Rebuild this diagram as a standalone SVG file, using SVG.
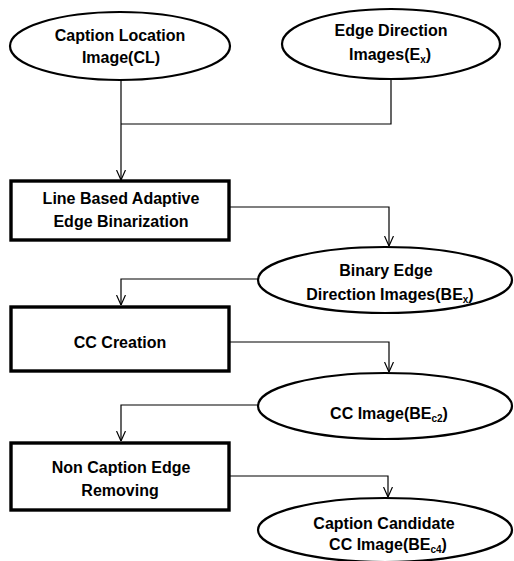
<svg xmlns="http://www.w3.org/2000/svg" width="514" height="561" viewBox="0 0 514 561">
<style>
.ell{fill:#fff;stroke:#000;stroke-width:2.2}
.box{fill:#fff;stroke:#000;stroke-width:3.4}
.t{font-family:"Liberation Sans",Arial,sans-serif;font-weight:bold;font-size:16px;text-anchor:middle;fill:#000}
.s{font-size:10px}
.c{fill:none;stroke:#000;stroke-width:1.2}
</style>
<defs>
<marker id="ah" viewBox="0 0 10 10" refX="10" refY="5" markerWidth="10" markerHeight="10" markerUnits="userSpaceOnUse" orient="auto">
<path d="M0,0.5 L10,5 L0,9.5" fill="none" stroke="#000" stroke-width="1.2"/>
</marker>
</defs>
<rect width="514" height="561" fill="#fff"/>
<g id="connectors">
<path class="c" d="M121,80 V124"/>
<path class="c" d="M391,79 V124 H121"/>
<path class="c" d="M121,124 V180" marker-end="url(#ah)"/>
<path class="c" d="M229,207 H389 V246" marker-end="url(#ah)"/>
<path class="c" d="M258,279 H121 V305" marker-end="url(#ah)"/>
<path class="c" d="M229,342 H389 V372" marker-end="url(#ah)"/>
<path class="c" d="M258,405 H121 V441" marker-end="url(#ah)"/>
<path class="c" d="M229,476 H388 V497" marker-end="url(#ah)"/>
</g>
<g id="n1">
<ellipse class="ell" cx="120" cy="46" rx="110" ry="34"/>
<text class="t" x="120" y="41">Caption Location</text>
<text class="t" x="121" y="63">Image(CL)</text>
</g>
<g id="n2">
<ellipse class="ell" cx="391" cy="44" rx="109" ry="35"/>
<text class="t" x="391" y="36">Edge Direction</text>
<text class="t" x="390" y="60">Images(E<tspan class="s" dy="3">x</tspan><tspan dy="-3">)</tspan></text>
</g>
<g id="n3">
<rect class="box" x="11" y="181" width="218" height="59"/>
<text class="t" x="121" y="204">Line Based Adaptive</text>
<text class="t" x="121" y="227">Edge Binarization</text>
</g>
<g id="n4">
<ellipse class="ell" cx="385" cy="280" rx="127" ry="33"/>
<text class="t" x="386" y="276">Binary Edge</text>
<text class="t" x="390" y="300">Direction Images(BE<tspan class="s" dy="3">x</tspan><tspan dy="-3">)</tspan></text>
</g>
<g id="n5">
<rect class="box" x="11" y="307" width="218" height="64"/>
<text class="t" x="120" y="348">CC Creation</text>
</g>
<g id="n6">
<ellipse class="ell" cx="385" cy="406" rx="127" ry="33"/>
<text class="t" x="389" y="419">CC Image(BE<tspan class="s" dy="3">c2</tspan><tspan dy="-3">)</tspan></text>
</g>
<g id="n7">
<rect class="box" x="11" y="443" width="218" height="67"/>
<text class="t" x="121" y="473">Non Caption Edge</text>
<text class="t" x="120" y="496">Removing</text>
</g>
<g id="n8">
<ellipse class="ell" cx="385" cy="530" rx="127" ry="32"/>
<text class="t" x="384" y="529">Caption Candidate</text>
<text class="t" x="388" y="550">CC Image(BE<tspan class="s" dy="3">c4</tspan><tspan dy="-3">)</tspan></text>
</g>
</svg>
